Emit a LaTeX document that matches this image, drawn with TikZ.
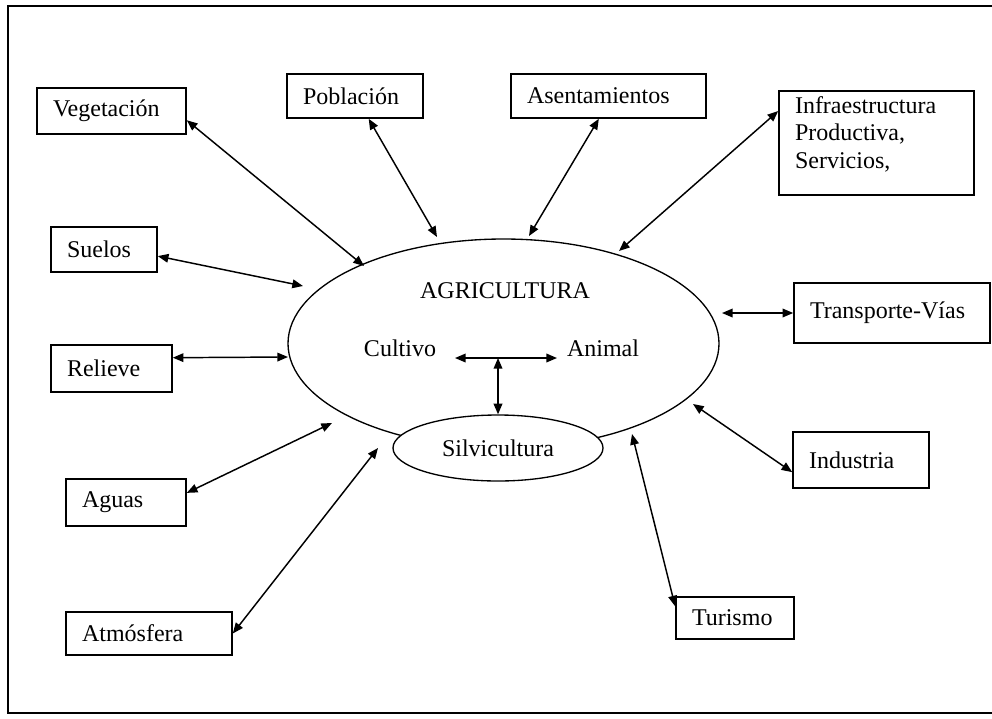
\documentclass[tikz,border=0pt]{standalone}
\usepackage{fontspec}
\setmainfont{Liberation Serif}
\usetikzlibrary{arrows.meta,shapes.geometric}

\begin{document}
\begin{tikzpicture}[
  x=0.75pt, y=-0.75pt,
  font=\fontsize{18}{20.6}\selectfont,
  >={Triangle[length=8pt,width=6.5pt]},
  box/.style={draw, line width=1.2pt, inner xsep=12pt, inner ysep=0pt, align=left},
  link/.style={<->, line width=1.1pt},
  oval/.style={draw, ellipse, line width=1pt, inner sep=0pt},
  label/.style={inner sep=0pt}
]
\useasboundingbox (0,0) rectangle (992,718);

% outer frame
\draw[line width=1.5pt] (992,6) -- (8,6) -- (8,713) -- (992,713);

% central ellipses
\node[oval, minimum width=323.25pt, minimum height=156.75pt] (agri) at (503.5,343.5) {};
\node[oval, fill=white, minimum width=157.5pt, minimum height=49.5pt] (silv) at (498,448) {Silvicultura};
\node[label] (agtitle) at (505,291) {AGRICULTURA};
\node[label] (cult) at (400,348) {Cultivo};
\node[label] (anim) at (603,348) {Animal};

% surrounding boxes
\node[box, text width=87.75pt,  minimum height=34.5pt]  (veg) at (111.5,111)   {Vegetación};
\node[box, text width=78pt,     minimum height=33pt]    (pob) at (355,96)      {Población};
\node[box, text width=122.25pt, minimum height=33pt]    (ase) at (608.5,96)    {Asentamientos};
\node[draw, line width=1.2pt, inner xsep=12pt, inner ysep=4pt] (inf) at (876.5,143)
  {\parbox[c][70pt][t]{122.25pt}{Infraestructura\\Productiva,\\Servicios,}};
\node[box, text width=55.5pt,   minimum height=33.75pt] (sue) at (104,249.5)   {Suelos};
\node[box, text width=66.75pt,  minimum height=35.25pt] (rel) at (111.5,368.5) {Relieve};
\node[box, text width=123pt,    minimum height=45pt]    (tra) at (892,313)     {Transporte-Vías};
\node[box, text width=78pt,     minimum height=42pt]    (ind) at (861,460)     {Industria};
\node[box, text width=64.5pt,   minimum height=31.5pt]  (tur) at (735,618)     {Turismo};
\node[box, text width=66pt,     minimum height=35.25pt] (agu) at (126,502.5)   {Aguas};
\node[box, text width=100.5pt,  minimum height=32.25pt] (atm) at (149,633.5)   {Atmósfera};

% arrow ends around the central ellipse
\coordinate (t-veg) at (364,266);
\coordinate (t-pob) at (437,237);
\coordinate (t-ase) at (529,236);
\coordinate (t-inf) at (619,251);
\coordinate (t-sue) at (303,286);
\coordinate (t-rel) at (288,357);
\coordinate (t-tra) at (722,313);
\coordinate (t-ind) at (693,404);
\coordinate (t-tur) at (632,434);
\coordinate (t-agu) at (332,423);
\coordinate (t-atm) at (378,448);

% links between the surroundings and agriculture
\draw[link] (veg.-7.6)   -- (t-veg);
\draw[link] (pob.-59.4)  -- (t-pob);
\draw[link] (ase.-113.4) -- (t-ase);
\draw[link] (inf.162)    -- (t-inf);
\draw[link] (sue.-7.9)   -- (t-sue);
\draw[link] (rel.10.6)   -- (t-rel);
\draw[link] (tra.west)   -- (t-tra);
\draw[link] (ind.190)    -- (t-ind);
\draw[link] (tur.169.4)  -- (t-tur);
\draw[link] (agu.9.9)    -- (t-agu);
\draw[link] (atm.east)   -- (t-atm);

% internal links: crops, animals, forestry
\coordinate (h-l) at (455,358);
\coordinate (h-r) at (557,358);
\coordinate (h-m) at (498,358);
\draw[link] (h-l) -- (h-r);
\draw[link] (h-m) -- (silv.north);
\end{tikzpicture}
\end{document}
